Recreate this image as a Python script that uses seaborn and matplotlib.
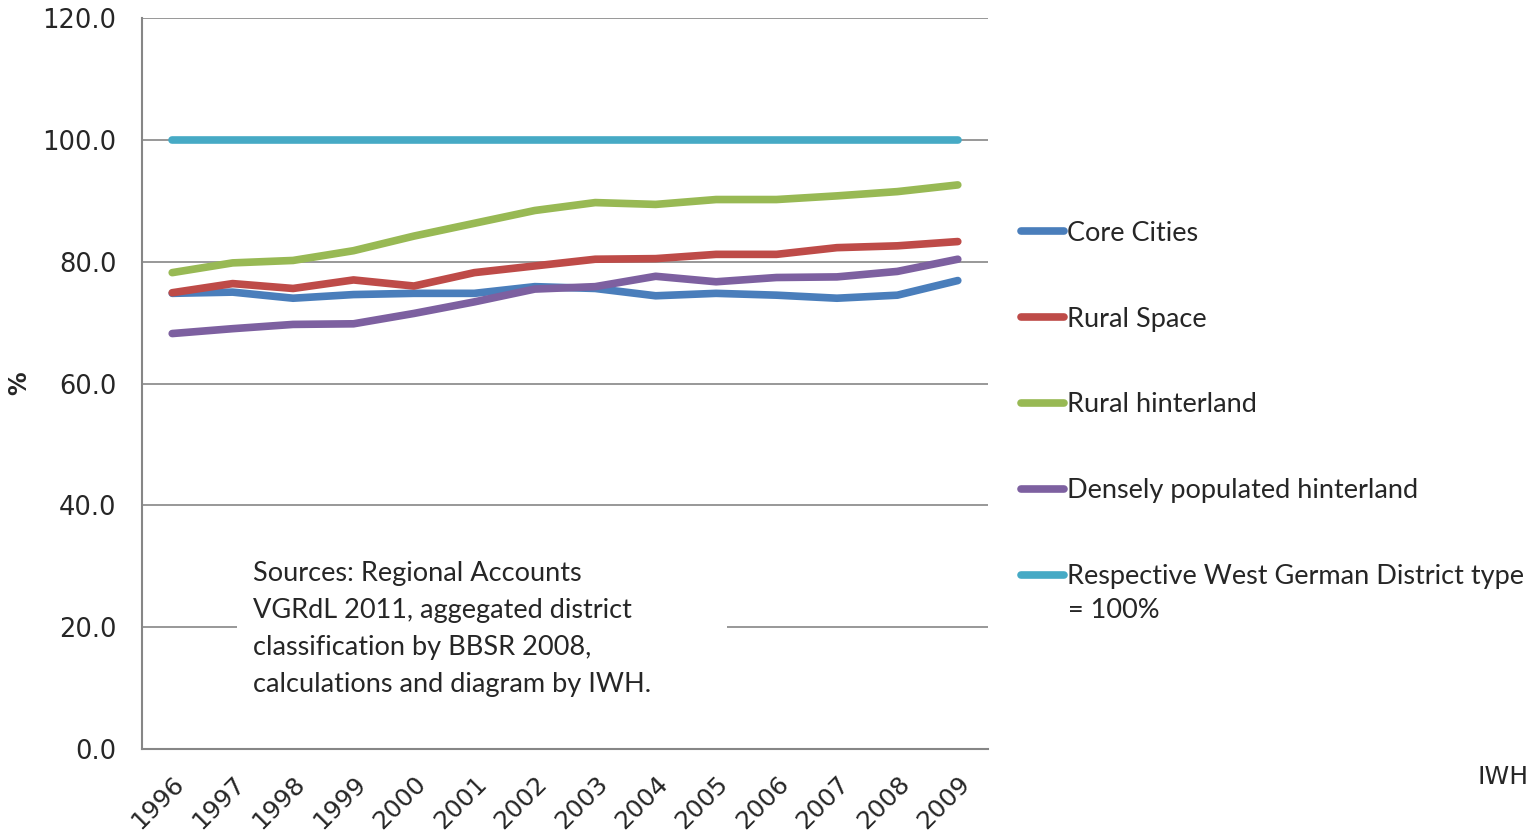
import pandas as pd
import matplotlib
matplotlib.use("Agg")
import matplotlib.pyplot as plt
import matplotlib.patches as mpatches
import seaborn as sns

# data
years = [str(y) for y in range(1996, 2010)]
core_cities = [74.8, 75.0, 74.0, 74.6, 74.8, 74.8, 75.9, 75.6, 74.4, 74.8, 74.5, 74.0, 74.5, 76.9]
rural_space = [74.9, 76.4, 75.6, 77.0, 76.0, 78.2, 79.3, 80.4, 80.5, 81.2, 81.2, 82.3, 82.6, 83.3]
rural_hinterland = [78.2, 79.8, 80.2, 81.8, 84.2, 86.3, 88.4, 89.7, 89.4, 90.2, 90.2, 90.8, 91.5, 92.6]
dense_hinterland = [68.2, 69.0, 69.7, 69.8, 71.5, 73.4, 75.5, 75.9, 77.6, 76.7, 77.4, 77.5, 78.4, 80.4]
west_german = [100.0] * 14

series_names = ["Core Cities", "Rural Space", "Rural hinterland",
                "Densely populated hinterland", "Respective West German District type"]
colors = ["#4A7EBB", "#BE4B48", "#98B954", "#7D60A0", "#46AAC5"]

rows = []
for name, vals in zip(series_names, [core_cities, rural_space, rural_hinterland,
                                      dense_hinterland, west_german]):
    for i, v in enumerate(vals):
        rows.append({"pos": i, "year": years[i], "value": v, "series": name})
df = pd.DataFrame(rows)

sns.set_style("white")
plt.rcParams['font.family'] = ['DejaVu Sans']

fig = plt.figure(figsize=(15.37, 8.36), dpi=100)
ax = fig.add_axes([142 / 1537, 1 - 749 / 836, 846 / 1537, 731 / 836])

sns.lineplot(data=df, x="pos", y="value", hue="series", hue_order=series_names,
             palette=colors, linewidth=5.5, ax=ax, legend=False,
             solid_capstyle="round", zorder=3)

ax.set_xlim(-0.5, 13.5)
ax.set_ylim(0, 120)
ax.set_yticks(range(0, 121, 20))
ax.set_yticklabels([f"{v:.1f}" for v in range(0, 121, 20)], fontsize=18.5)
ax.set_xticks(range(14))
ax.set_xticklabels(years, rotation=45, ha="right", rotation_mode="anchor", fontsize=18)
ax.set_xticks([i - 0.5 for i in range(15)], minor=True)
ax.tick_params(axis="x", which="major", length=0, pad=16)
ax.tick_params(axis="x", which="minor", length=7, color="#868686", width=1.2, direction="out")
ax.tick_params(axis="y", length=7, color="#868686", width=1.2, direction="out", pad=11.5)
ax.grid(axis="y", color="#868686", linewidth=1.2, zorder=0)
ax.set_axisbelow(True)
for s in ["top", "right"]:
    ax.spines[s].set_visible(False)
for s in ["left", "bottom"]:
    ax.spines[s].set_color("#868686")
    ax.spines[s].set_linewidth(1.5)
ax.set_xlabel("")
ax.set_ylabel("%", fontsize=17, fontweight="bold")
ax.yaxis.set_label_coords(-0.131, 0.5)

# white box behind the source note
ax.add_patch(mpatches.Rectangle((0.1123, 0.067), 0.579, 0.22, transform=ax.transAxes,
                                facecolor="white", edgecolor="none", zorder=1))
ax.text(0.131, 0.2577, "Sources: Regional Accounts\nVGRdL 2011, aggegated district\n"
        "classification by BBSR 2008,\ncalculations and diagram by IWH.",
        transform=ax.transAxes, ha="left", va="top", fontsize=19.5,
        family="Lato", linespacing=1.6, zorder=2)

handles = [plt.Line2D([], [], color=c, linewidth=5.5, solid_capstyle="round") for c in colors]
labels = series_names[:4] + ["Respective West German District type"]
leg = ax.legend(handles, labels, loc="upper left", bbox_to_anchor=(1.0257, 0.7377),
                frameon=False, prop={"family": "Lato", "size": 19.5},
                handlelength=1.6, handletextpad=0.1, labelspacing=2.25, borderaxespad=0)
fig.text(1068 / 1537, 1 - 610 / 836, "= 100%", ha="left", va="center",
         fontsize=19.5, family="Lato")

fig.text(1478 / 1537, 1 - 777 / 836, "IWH", ha="left", va="center", fontsize=18)

fig.savefig("out.png", dpi=100)
